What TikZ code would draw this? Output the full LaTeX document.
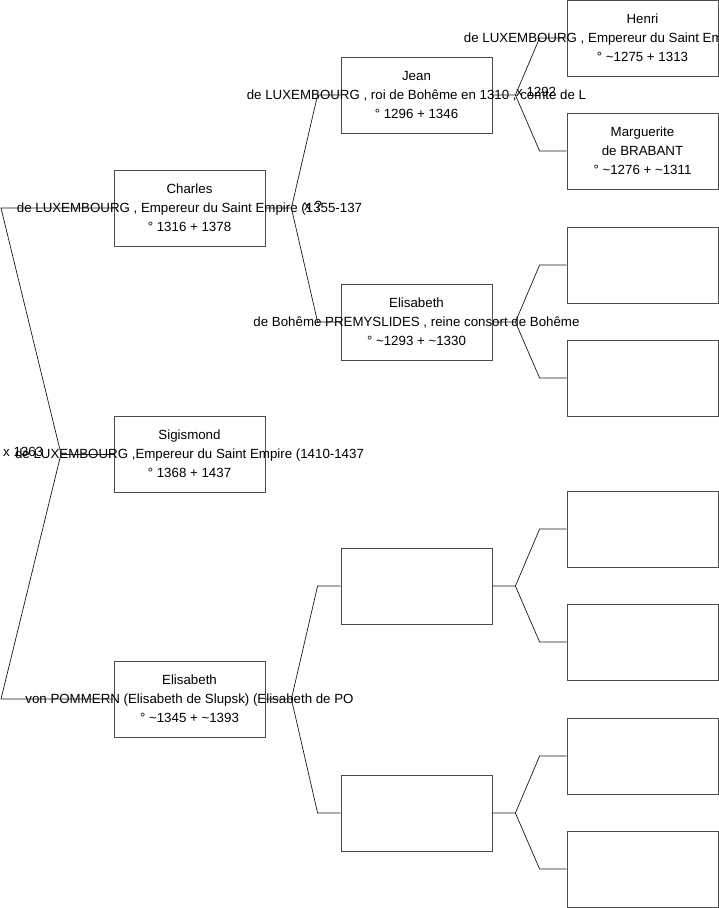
\documentclass[tikz,border=0pt]{standalone}
\usepackage{fontspec}
\setmainfont{Liberation Sans}
\usetikzlibrary{calc}

\newcommand{\who}[3]{\makebox[0pt]{#1}\\\makebox[0pt]{#2}\\\makebox[0pt]{#3}}

\begin{document}
\begin{tikzpicture}[x=1pt,y=-1pt,
  person/.style={draw=black!70, line width=0.8pt, minimum width=151pt, minimum height=76pt,
    inner sep=0pt, align=center, font=\fontsize{13.3}{19.2}\selectfont},
  wed/.style={anchor=west, inner sep=0pt, font=\fontsize{13.3}{15}\selectfont},
  link/.style={draw=black!90, line width=0.7pt}]
\useasboundingbox (0,0) rectangle (719,908);
\node[person] (charles) at (189.5,208) {\who{Charles}{de LUXEMBOURG , Empereur du Saint Empire (1355-137}{° 1316 + 1378}};
\node[person] (sigis) at (189.5,454) {\who{Sigismond}{de LUXEMBOURG ,Empereur du Saint Empire (1410-1437}{° 1368 + 1437}};
\node[person] (elisp) at (189.5,699) {\who{Elisabeth}{von POMMERN (Elisabeth de Slupsk) (Elisabeth de PO}{° \textasciitilde1345 + \textasciitilde1393}};
\node[person] (jean) at (416.5,95) {\who{Jean}{de LUXEMBOURG , roi de Bohême en 1310 , comte de L}{° 1296 + 1346}};
\node[person] (elisb) at (416.5,322) {\who{Elisabeth}{de Bohême PREMYSLIDES , reine consort de Bohême}{° \textasciitilde1293 + \textasciitilde1330}};
\node[person] (ff1) at (416.5,586) {};
\node[person] (ff2) at (416.5,813) {};
\node[person] (henri) at (642.5,38) {\who{Henri}{de LUXEMBOURG , Empereur du Saint Em\phantom{pire (1308-1313)}}{° \textasciitilde1275 + 1313}};
\node[person] (marg) at (642.5,151) {\who{Marguerite}{de BRABANT}{° \textasciitilde1276 + \textasciitilde1311}};
\node[person] (g3a) at (642.5,265) {};
\node[person] (g3b) at (642.5,378) {};
\node[person] (g3c) at (642.5,529) {};
\node[person] (g3d) at (642.5,642) {};
\node[person] (g3e) at (642.5,756) {};
\node[person] (g3f) at (642.5,869) {};
\coordinate (lft) at (1,0);
\coordinate (m0) at (61,454);
\draw[link] (charles.west) -- (charles.west -| lft) -- (m0) -- (elisp.west -| lft) -- (elisp.west);
\draw[link] (m0) -- (sigis.west);
\foreach \p/\a/\b/\s/\e in {charles/jean/elisb/26/23, elisp/ff1/ff2/26/23, jean/henri/marg/23/27,
    elisb/g3a/g3b/23/27, ff1/g3c/g3d/23/27, ff2/g3e/g3f/23/27} {
  \draw[link] (\p.east) -- ++(\s,0) coordinate (j) -- ($(\a.west)+(-\e,0)$) -- (\a.west);
  \draw[link] (j) -- ($(\b.west)+(-\e,0)$) -- (\b.west);
}
\node[wed] (w1) at (3,452) {x 1363};
\node[wed] (w2) at (304,206) {x ?};
\node[wed] (w3) at (516,92) {x 1292};
\end{tikzpicture}
\end{document}
